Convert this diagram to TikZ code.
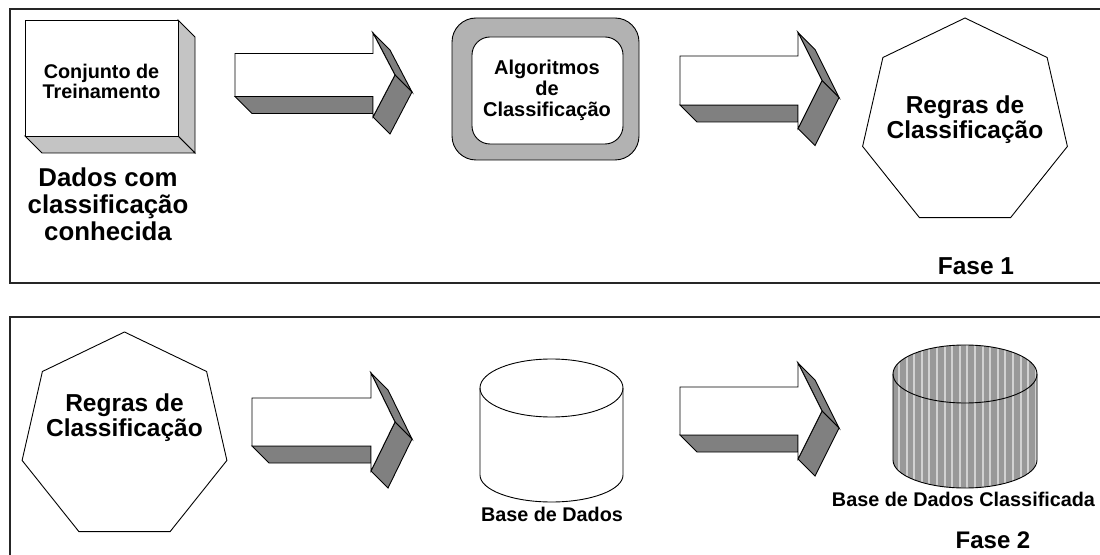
\documentclass[tikz,border=0pt]{standalone}
\usepackage{fontspec}
\setmainfont{Liberation Sans}
\definecolor{arrowgray}{HTML}{808080}
\definecolor{cubegray}{HTML}{C4C4C4}
\definecolor{boxgray}{HTML}{B2B2B2}
\definecolor{stripedark}{HTML}{999999}
\definecolor{stripelight}{HTML}{D2D2D2}
\newcommand\setfs[2]{\fontsize{#1bp}{#2bp}\selectfont\bfseries}
\tikzset{
  frameline/.style={line width=1.4bp, draw=black!85},
  outline/.style={draw=black, line width=0.9bp, line join=miter},
  darkface/.style={outline, fill=arrowgray},
  txt/.style={inner sep=0pt, outer sep=0pt, align=center, text=black},
}
% block arrow: x0, centre y, shaft half height, shaft end x, head half height, tip x
\newcommand\blockarrow[6]{%
  \draw[darkface] (#1,{#2+#3}) -- ({#1+17},{#2+#3+17}) -- (#4,{#2+#3+17}) -- (#4,{#2+#3}) -- cycle;
  \draw[darkface] (#4,{#2-#5}) -- ({#4+17},{#2-#5+17}) -- ({#6+17},{#2+17}) -- (#6,#2) -- cycle;
  \draw[darkface] (#6,#2) -- ({#6+17},{#2+17}) -- ({#4+17},{#2+#5+17}) -- (#4,{#2+#5}) -- cycle;
  \draw[outline, fill=white] (#1,{#2-#3}) -- (#4,{#2-#3}) -- (#4,{#2-#5}) -- (#6,#2)
     -- (#4,{#2+#5}) -- (#4,{#2+#3}) -- (#1,{#2+#3}) -- cycle;
}
% regular heptagon of circumradius 105 around a centre
\newcommand\heptagon[2]{%
  \draw[outline, fill=white, shift={(#1,#2)}] (0,-105) -- (82.1,-65.5) -- (102.4,23.4)
     -- (45.6,94.6) -- (-45.6,94.6) -- (-102.4,23.4) -- (-82.1,-65.5) -- cycle;
}
\begin{document}
\begin{tikzpicture}[x=1bp, y=-1bp]
\useasboundingbox (0,0) rectangle (1100,555);

% frames
\draw[frameline] (1103,9) -- (10,9) -- (10,283) -- (1103,283);
\draw[frameline] (1103,317) -- (10,317) -- (10,558);

% ---------- Fase 1 ----------
% cube
\draw[outline, fill=cubegray] (178,20) -- (195,37) -- (195,153) -- (178,136) -- cycle;
\draw[outline, fill=cubegray] (25,136) -- (178,136) -- (195,153) -- (42,153) -- cycle;
\draw[outline, fill=white] (25,20) rectangle (178,136);
\node[txt, font=\setfs{19.8}{19.5}] (conj) at (101.5,81.5) {Conjunto de\\Treinamento};
\node[txt, font=\setfs{25.8}{27}] (dados) at (108,204.5) {Dados com\\classificação\\conhecida};

\blockarrow{235}{75}{21.5}{373}{42}{395}

% rounded box
\draw[outline, fill=boxgray, rounded corners=24bp] (452,18) rectangle (639,160);
\draw[outline, fill=white, rounded corners=18bp] (472,37) rectangle (623,144);
\node[txt, font=\setfs{20}{21.2}] (alg) at (547,90.3) {Algoritmos\\de\\Classificação};

\blockarrow{680}{80.5}{24.5}{798}{48}{822}

\heptagon{965}{123}
\node[txt, font=\setfs{24.5}{25}] (regras1) at (965,119.6) {Regras de\\Classificação};
\node[txt, anchor=base, font=\setfs{24.5}{24}] (fase1) at (976,275) {Fase 1};

% ---------- Fase 2 ----------
\heptagon{124.5}{437}
\node[txt, font=\setfs{24.5}{25.7}] (regras2) at (124.5,417.6) {Regras de\\Classificação};

\blockarrow{252}{422}{24}{371}{49}{395}

% plain cylinder
\draw[outline, fill=white] (480,388) -- (480,475)
   arc[start angle=180, end angle=360, x radius=71.5bp, y radius=27bp] -- (623,388);
\draw[outline] (551.5,388) ellipse [x radius=71.5bp, y radius=29bp];
\node[txt, anchor=base, font=\setfs{19.8}{19.8}] (base) at (552,521.5) {Base de Dados};

\blockarrow{680}{411}{24}{798}{48}{822}

% striped cylinder
\begin{scope}
  \clip (893,374) -- (893,460)
     arc[start angle=180, end angle=360, x radius=72bp, y radius=28bp] -- (1037,374)
     arc[start angle=0, end angle=180, x radius=72bp, y radius=29bp] -- cycle;
  \fill[stripedark] (885,340) rectangle (1045,495);
  \foreach \sx in {0,...,19} {
    \draw[stripelight, line width=2bp] ({899+7.6*\sx},340) -- ({899+7.6*\sx},495);
  }
\end{scope}
\draw[outline] (893,374) -- (893,460)
   arc[start angle=180, end angle=360, x radius=72bp, y radius=28bp] -- (1037,374);
\draw[outline] (965,374) ellipse [x radius=72bp, y radius=29bp];
\node[txt, anchor=base, font=\setfs{19.8}{19.8}] (basec) at (963.5,506.7) {Base de Dados Classificada};
\node[txt, anchor=base, font=\setfs{24}{24}] (fase2) at (993,548.3) {Fase 2};
\end{tikzpicture}
\end{document}
